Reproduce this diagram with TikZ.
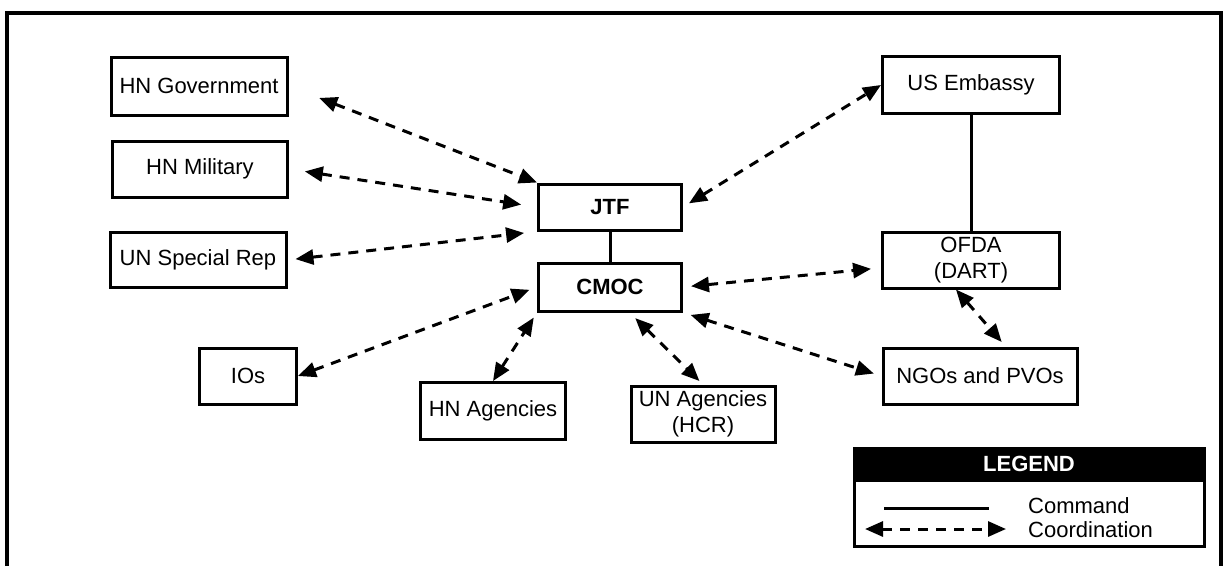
\documentclass[tikz,border=0pt]{standalone}
\usepackage{fontspec}
\setmainfont{Liberation Sans}
\usetikzlibrary{arrows.meta}
\usetikzlibrary{calc}
\newcommand*{\lw }{3pt}
\newcommand*{\frw}{4.5pt}
\tikzset{
    unit/.style = {draw, line width=\lw, inner sep=0pt, align=center},
    coord/.style = {arrows={Triangle[length=18pt,width=15pt]-Triangle[length=18pt,width=15pt]}, line width=\lw, dash pattern=on 10pt off 8pt},
    cmd/.style = {line width=\lw}
}

\begin{document}
\begin{tikzpicture}[x=1pt, y=-1pt, font=\fontsize{22}{26}\selectfont]
        \useasboundingbox (0,0) rectangle (1225,566);
        \draw [line width=\frw] (7,566) -- (7,13) -- (1221,13) -- (1221,566);
        % left column
        \node [unit, minimum width=176pt, minimum height=58pt] (hngov) at (199,86)    {HN Government};
        \node [unit, minimum width=175pt, minimum height=56pt] (hnmil) at (200,169)   {HN Military};
        \node [unit, minimum width=176pt, minimum height=55pt] (unsr)  at (198,260)   {UN Special Rep};
        \node [unit, minimum width=97pt,  minimum height=56pt] (ios)   at (248,376)   {IOs};
        % centre
        \node [unit, minimum width=143pt, minimum height=46pt] (jtf)   at (610,207)   {\textbf{JTF}};
        \node [unit, minimum width=143pt, minimum height=48pt] (cmoc)  at (610,287)   {\textbf{CMOC}};
        \node [unit, minimum width=145pt, minimum height=57pt] (hnag)  at (493,411)   {HN Agencies};
        \node [unit, minimum width=144pt, minimum height=56pt] (unag)  at (703,414)   {UN Agencies\\(HCR)};
        % right column
        \node [unit, minimum width=177pt, minimum height=57pt] (usemb) at (971,85)    {US Embassy};
        \node [unit, minimum width=177pt, minimum height=56pt] (ofda)  at (971,260)   {OFDA\\(DART)};
        \node [unit, minimum width=194pt, minimum height=56pt] (ngo)   at (980,376)   {NGOs and PVOs};
        % command
        \draw [cmd] (jtf.south) -- (cmoc.north);
        \draw [cmd] (usemb.south) -- (ofda.north);
        % coordination
        \draw [coord, shorten <=33pt] (hngov.east) -- (jtf.north west);
        \draw [coord, shorten <=16pt, shorten >=16pt] (hnmil.east) -- (jtf.west);
        \draw [coord, shorten <=8pt, shorten >=13pt] (unsr.east) -- (jtf.south west);
        \draw [coord, shorten >=8pt] (ios.east) -- (cmoc.west);
        \draw [coord, shorten >=6pt] (hnag.north) -- (cmoc.south west);
        \draw [coord, shorten <=8pt, shorten >=5pt] (cmoc.south -| unag.north west) -- (unag.north);
        \draw [coord, shorten <=8pt, shorten >=8pt] (cmoc.south east) -- (ngo.west);
        \draw [coord, shorten <=8pt, shorten >=10pt] (cmoc.east) -- (ofda.185);
        \draw [coord, shorten <=7pt] (jtf.east) -- (usemb.west);
        \draw [coord, shorten >=6pt] (ofda.243) -- (ngo.49);
        % legend
        \node [unit, minimum width=350pt, minimum height=98pt] (legend) at (1029,497) {};
        \node [fill=black, text=white, inner sep=0pt, minimum width=350pt, minimum height=35pt, anchor=north] (legendhead) at (legend.north) {\textbf{LEGEND}};
        \coordinate (cmda) at (884,508);
        \coordinate (cmdb) at (989,508);
        \coordinate (crda) at (865,529);
        \coordinate (crdb) at (1006,529);
        \draw [cmd] (cmda) -- (cmdb);
        \draw [coord] (crda) -- (crdb);
        \node [anchor=west, inner sep=0pt] (lcmd)  at (1028,506) {Command};
        \node [anchor=west, inner sep=0pt] (lcrd)  at (1028,530) {Coordination};
    \end{tikzpicture}
\end{document}
